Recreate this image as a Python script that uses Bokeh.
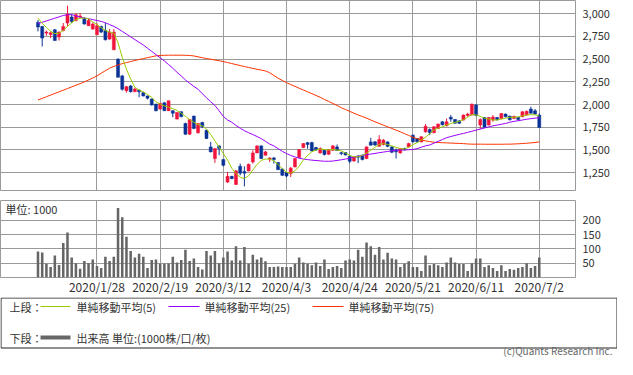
from bokeh.plotting import figure
from bokeh.layouts import column
from bokeh.models import Range1d, FixedTicker, NumeralTickFormatter, ColumnDataSource, Label
from bokeh.embed import file_html
from bokeh.resources import INLINE

# ---------------- data ----------------
opens = [2904, 2860, 2786, 2770, 2823, 2742, 2816, 2897, 2963, 2926,
         2963, 2945, 2867, 2831, 2768, 2860, 2816, 2720, 2602, 2499,
         2315, 2153, 2204, 2142, 2160, 2131, 2094, 2061, 2005, 1950,
         2020, 1932, 1932, 1840, 1921, 1792, 1674, 1873, 1689, 1803,
         1718, 1534, 1405, 1545, 1394, 1147, 1210, 1121, 1320, 1262,
         1269, 1368, 1468, 1545, 1442, 1400, 1412, 1361, 1291, 1250,
         1239, 1313, 1416, 1527, 1580, 1582, 1527, 1468, 1497, 1453,
         1497, 1534, 1470, 1472, 1431, 1379, 1435, 1442, 1405, 1589,
         1590, 1541, 1560, 1589, 1534, 1500, 1468, 1516, 1534, 1663,
         1626, 1589, 1700, 1726, 1689, 1737, 1810, 1766, 1860, 1836,
         1821, 1829, 1880, 1884, 1994, 1774, 1858, 1774, 1829, 1858,
         1847, 1895, 1873, 1847, 1858, 1866, 1884, 1950, 1932, 1884]
highs = [2930, 2865, 2815, 2805, 2831, 2805, 2897, 3088, 2989, 3007,
         3007, 2963, 2945, 2904, 2897, 2867, 2897, 2831, 2831, 2510,
         2326, 2204, 2216, 2185, 2165, 2135, 2098, 2065, 2008, 2013,
         2024, 2042, 1935, 1913, 1925, 1800, 1840, 1877, 1792, 1810,
         1720, 1589, 1516, 1552, 1400, 1258, 1215, 1276, 1350, 1320,
         1350, 1497, 1552, 1550, 1490, 1420, 1424, 1365, 1295, 1258,
         1313, 1410, 1510, 1575, 1589, 1590, 1535, 1530, 1500, 1510,
         1555, 1560, 1479, 1475, 1442, 1430, 1442, 1450, 1540, 1634,
         1595, 1663, 1620, 1595, 1540, 1516, 1520, 1525, 1580, 1670,
         1630, 1650, 1785, 1737, 1760, 1790, 1815, 1847, 1884, 1840,
         1825, 1890, 1910, 2013, 2005, 1847, 1862, 1862, 1884, 1862,
         1906, 1900, 1877, 1877, 1862, 1925, 1935, 1976, 1950, 1902]
lows = [2805, 2639, 2757, 2731, 2700, 2705, 2805, 2860, 2897, 2915,
        2955, 2880, 2867, 2823, 2768, 2786, 2705, 2713, 2602, 2300,
        2153, 2131, 2131, 2135, 2079, 2090, 2057, 1990, 1925, 1945,
        1929, 1929, 1860, 1836, 1860, 1665, 1665, 1729, 1680, 1740,
        1620, 1475, 1357, 1442, 1320, 1136, 1180, 1115, 1221, 1100,
        1265, 1350, 1465, 1400, 1438, 1368, 1350, 1280, 1215, 1200,
        1203, 1310, 1410, 1520, 1515, 1486, 1490, 1460, 1440, 1445,
        1490, 1490, 1442, 1440, 1355, 1370, 1355, 1385, 1400, 1550,
        1545, 1535, 1550, 1530, 1465, 1405, 1460, 1495, 1530, 1580,
        1580, 1585, 1690, 1663, 1685, 1730, 1770, 1760, 1810, 1790,
        1785, 1825, 1866, 1880, 1870, 1730, 1745, 1770, 1810, 1825,
        1840, 1860, 1825, 1840, 1825, 1860, 1880, 1900, 1890, 1745]
closes = [2853, 2731, 2797, 2790, 2705, 2797, 2860, 2996, 2915, 2989,
          2975, 2886, 2926, 2886, 2867, 2797, 2713, 2797, 2797, 2300,
          2168, 2197, 2142, 2171, 2140, 2094, 2070, 1994, 1932, 2013,
          1932, 2042, 1905, 1913, 1866, 1674, 1836, 1737, 1792, 1755,
          1626, 1479, 1516, 1515, 1331, 1210, 1184, 1270, 1245, 1245,
          1342, 1468, 1545, 1405, 1479, 1412, 1395, 1283, 1221, 1213,
          1300, 1405, 1504, 1571, 1560, 1490, 1500, 1515, 1450, 1500,
          1545, 1495, 1460, 1445, 1375, 1424, 1420, 1395, 1534, 1553,
          1555, 1615, 1608, 1540, 1475, 1480, 1516, 1500, 1571, 1590,
          1590, 1645, 1760, 1690, 1755, 1785, 1778, 1810, 1840, 1795,
          1795, 1884, 1895, 2002, 1880, 1836, 1750, 1858, 1862, 1832,
          1902, 1866, 1832, 1870, 1835, 1921, 1925, 1905, 1895, 1748]
volumes = [91, 88, 48, 37, 77, 44, 121, 158, 70, 50,
           31, 58, 50, 63, 40, 33, 73, 58, 73, 244,
           211, 143, 93, 70, 83, 73, 33, 61, 63, 48,
           48, 49, 73, 53, 61, 97, 58, 67, 37, 28,
           93, 77, 93, 50, 70, 91, 60, 110, 60, 107,
           48, 80, 63, 70, 57, 37, 37, 39, 37, 37,
           37, 48, 70, 53, 48, 43, 53, 40, 63, 30,
           37, 40, 33, 60, 63, 60, 97, 73, 123, 110,
           80, 107, 63, 87, 67, 63, 37, 48, 57, 37,
           37, 23, 77, 43, 47, 43, 37, 53, 70, 53,
           47, 47, 23, 50, 67, 67, 37, 43, 33, 23,
           43, 23, 30, 27, 33, 37, 50, 33, 40, 70]
ma5 = [2952, 2895, 2850, 2805, 2780, 2785, 2816, 2860, 2900, 2934,
       2950, 2952, 2945, 2910, 2880, 2845, 2815, 2797, 2786, 2680,
       2520, 2390, 2280, 2190, 2160, 2140, 2110, 2080, 2030, 2005,
       1985, 1970, 1955, 1935, 1905, 1870, 1835, 1805, 1780, 1765,
       1730, 1670, 1600, 1530, 1460, 1390, 1300, 1240, 1200, 1185,
       1215, 1280, 1340, 1385, 1400, 1400, 1380, 1340, 1295, 1255,
       1245, 1270, 1320, 1390, 1440, 1480, 1500, 1510, 1505, 1500,
       1505, 1500, 1490, 1465, 1440, 1425, 1425, 1440, 1465, 1497,
       1530, 1560, 1570, 1560, 1545, 1530, 1515, 1510, 1530, 1560,
       1580, 1610, 1640, 1680, 1720, 1740, 1755, 1775, 1790, 1805,
       1815, 1835, 1860, 1890, 1885, 1870, 1850, 1840, 1830, 1830,
       1840, 1850, 1860, 1860, 1865, 1875, 1885, 1888, 1888, 1873]
ma25 = [2890, 2905, 2920, 2935, 2950, 2965, 2980, 2988, 2990, 2975,
        2960, 2952, 2945, 2935, 2925, 2915, 2900, 2880, 2860, 2835,
        2805, 2775, 2745, 2715, 2685, 2655, 2620, 2585, 2550, 2515,
        2480, 2440, 2400, 2355, 2315, 2271, 2235, 2200, 2168, 2120,
        2075, 2030, 1990, 1930, 1870, 1830, 1805, 1770, 1740, 1712,
        1690, 1670, 1648, 1625, 1595, 1565, 1545, 1515, 1485, 1460,
        1440, 1423, 1410, 1400, 1394, 1388, 1384, 1380, 1376, 1376,
        1378, 1385, 1392, 1400, 1410, 1420, 1430, 1440, 1448, 1455,
        1462, 1470, 1477, 1484, 1490, 1497, 1499, 1501, 1503, 1505,
        1515, 1530, 1545, 1555, 1575, 1595, 1615, 1635, 1648, 1660,
        1672, 1682, 1694, 1706, 1718, 1730, 1742, 1754, 1765, 1774,
        1783, 1792, 1805, 1815, 1822, 1830, 1838, 1845, 1850, 1855]
ma75 = [2050, 2068, 2086, 2104, 2122, 2140, 2158, 2176, 2194, 2212,
        2230, 2250, 2270, 2292, 2315, 2345, 2372, 2400, 2420, 2435,
        2450, 2462, 2473, 2485, 2496, 2506, 2516, 2526, 2536, 2540,
        2542, 2543, 2543, 2543, 2543, 2542, 2540, 2535, 2525, 2515,
        2506, 2499, 2490, 2482, 2473, 2462, 2451, 2440, 2429, 2418,
        2408, 2398, 2388, 2379, 2370, 2350, 2320, 2290, 2265, 2241,
        2220, 2200, 2179, 2160, 2140, 2120, 2100, 2080, 2055, 2035,
        2012, 1990, 1965, 1945, 1925, 1905, 1885, 1868, 1850, 1830,
        1810, 1792, 1773, 1755, 1737, 1718, 1700, 1680, 1660, 1640,
        1625, 1610, 1600, 1592, 1585, 1582, 1580, 1578, 1576, 1574,
        1572, 1570, 1566, 1564, 1564, 1564, 1563, 1563, 1563, 1563,
        1563, 1564, 1564, 1566, 1568, 1571, 1574, 1578, 1582, 1589]
tick_index = [14, 29, 44, 59, 74, 89, 104, 119]
tick_labels = ["2020/1/28", "2020/2/19", "2020/3/12", "2020/4/3",
               "2020/4/24", "2020/5/21", "2020/6/11", "2020/7/2"]
price_ticks = [1250, 1500, 1750, 2000, 2250, 2500, 2750, 3000]
volume_ticks = [50, 100, 150, 200]
legend_upper = ["単純移動平均(5)", "単純移動平均(25)", "単純移動平均(75)"]
legend_lower = "出来高 単位:(1000株/口/枚)"

# ---------------- styling ----------------
FONT = "Noto Sans CJK JP"
UP = "#f0143c"
DOWN = "#0a3296"
GRID = "#9a9a9a"
TXT = "#333333"
C5, C25, C75 = "#99cc00", "#9900ff", "#ff3300"
W = 617
RIGHT = 42


def style_axis(ax):
    ax.axis_line_color = None
    ax.major_tick_line_color = None
    ax.minor_tick_line_color = None
    ax.major_tick_out = 0
    ax.major_tick_in = 0
    ax.minor_tick_out = 0
    ax.minor_tick_in = 0
    ax.major_label_text_font = FONT
    ax.major_label_text_font_size = "11px"
    ax.major_label_text_color = TXT


idx = list(range(len(opens)))
colors = [UP if c >= o else DOWN for o, c in zip(opens, closes)]
src = ColumnDataSource(dict(
    x=idx, o=opens, h=highs, l=lows, c=closes,
    top=[max(o, c) for o, c in zip(opens, closes)],
    bot=[min(o, c) if abs(o - c) > 3 else min(o, c) - 3 for o, c in zip(opens, closes)],
    col=colors, vol=volumes, m5=ma5, m25=ma25, m75=ma75))

xr = Range1d(-8.9, 127.6)

# ---------------- price panel ----------------
p = figure(width=W, height=200, x_range=xr, y_range=Range1d(1054, 3145),
           y_axis_location="right", toolbar_location=None, output_backend="svg",
           min_border_left=0, min_border_right=RIGHT, min_border_top=0, min_border_bottom=10)
p.xaxis.visible = False
p.xgrid.ticker = FixedTicker(ticks=tick_index)
p.ygrid.ticker = FixedTicker(ticks=price_ticks)
for g in (p.xgrid, p.ygrid):
    g.grid_line_color = GRID
    g.grid_line_width = 1
p.outline_line_color = GRID
p.yaxis.ticker = FixedTicker(ticks=price_ticks)
p.yaxis.formatter = NumeralTickFormatter(format="0,0")
style_axis(p.yaxis)
p.yaxis.major_label_standoff = 7

p.segment(x0="x", y0="l", x1="x", y1="h", color="col", line_width=1, source=src)
p.vbar(x="x", width=0.72, top="top", bottom="bot", fill_color="col", line_color="col",
       line_width=0.5, source=src)
p.line("x", "m75", color=C75, line_width=1, source=src)
p.line("x", "m25", color=C25, line_width=1, source=src)
p.line("x", "m5", color=C5, line_width=1, source=src)

# ---------------- volume panel ----------------
v = figure(width=W, height=97, x_range=xr, y_range=Range1d(0, 270),
           y_axis_location="right", toolbar_location=None, output_backend="svg",
           min_border_left=0, min_border_right=RIGHT, min_border_top=0, min_border_bottom=17)
v.xgrid.ticker = FixedTicker(ticks=tick_index)
v.ygrid.ticker = FixedTicker(ticks=volume_ticks)
for g in (v.xgrid, v.ygrid):
    g.grid_line_color = GRID
    g.grid_line_width = 1
v.outline_line_color = GRID
v.yaxis.ticker = FixedTicker(ticks=volume_ticks)
v.xaxis.ticker = FixedTicker(ticks=tick_index)
v.xaxis.major_label_overrides = dict(zip(tick_index, tick_labels))
style_axis(v.xaxis)
style_axis(v.yaxis)
v.xaxis.major_label_text_font_size = "12px"
v.yaxis.major_label_standoff = 7
v.xaxis.major_label_standoff = 0
v.vbar(x="x", width=0.6, top="vol", bottom=0, fill_color="#666666", line_color=None, source=src)
v.add_layout(Label(x=5, y=240, x_units="screen", y_units="data", text="単位: 1000",
                   text_font=FONT, text_font_size="11px", text_color=TXT,
                   text_baseline="middle"))

# ---------------- legend panel (positions in screen pixels) ----------------
LH = 61
lg = figure(width=W, height=LH, x_range=Range1d(0, W), y_range=Range1d(LH, 0),
            x_axis_location=None, y_axis_location=None, toolbar_location=None,
            output_backend="svg", min_border=0, outline_line_color=None)
if "frame_align" in lg.properties():
    lg.frame_align = False
    FW = W
else:
    lg.min_border_right = RIGHT
    FW = W - RIGHT
lg.x_range = Range1d(0, FW)
lg.xgrid.visible = False
lg.ygrid.visible = False
lg.quad(left=[0.5], right=[FW - 0.5], top=[0.5], bottom=[50.5], fill_color=None,
        line_color="#222222", line_width=1)
row1, row2 = 9, 40
lg.segment(x0=[40], y0=[row1], x1=[70], y1=[row1], line_color=C5, line_width=1)
lg.segment(x0=[168], y0=[row1], x1=[199], y1=[row1], line_color=C25, line_width=1)
lg.segment(x0=[312], y0=[row1], x1=[343], y1=[row1], line_color=C75, line_width=1)
lg.segment(x0=[40], y0=[row2], x1=[70], y1=[row2], line_color="#666666", line_width=4)


def screen_label(x, y_from_top, text, size="11px", color=TXT, align="left"):
    lg.add_layout(Label(x=x, y=LH - y_from_top, x_units="screen", y_units="screen",
                        text=text, text_font=FONT, text_font_size=size, text_color=color,
                        text_baseline="middle", text_align=align))


screen_label(9, row1, "上段：")
screen_label(9, row2, "下段：")
screen_label(76, row1, legend_upper[0])
screen_label(204, row1, legend_upper[1])
screen_label(348, row1, legend_upper[2])
screen_label(76, row2, legend_lower)
screen_label(FW - 5, 53, "(c)Quants Research Inc.", size="10px", color="#666666", align="right")

layout = column(p, v, lg, spacing=0)
open("out.html", "w").write(file_html(layout, INLINE))
